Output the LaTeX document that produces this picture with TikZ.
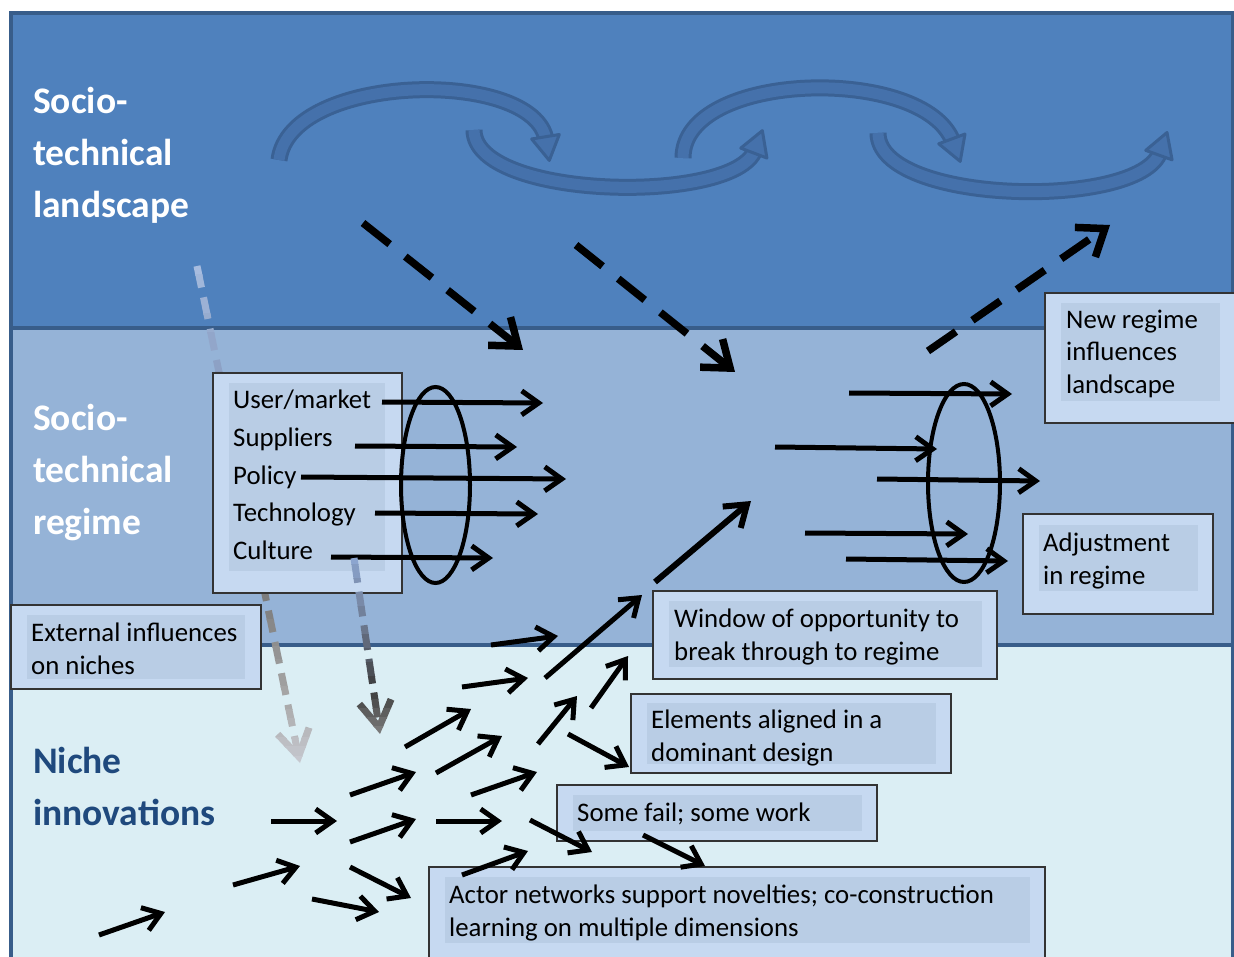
\documentclass[tikz,border=0pt]{standalone}
\usepackage{fontspec}
\setmainfont{Carlito}
\usetikzlibrary{arrows.meta,decorations.markings}
\definecolor{topband}{HTML}{4F81BD}
\definecolor{midband}{HTML}{95B3D7}
\definecolor{lowband}{HTML}{DBEEF4}
\definecolor{frameblue}{HTML}{385D8A}
\definecolor{boxout}{HTML}{C6D9F1}
\definecolor{boxin}{HTML}{B9CDE5}
\definecolor{boxline}{HTML}{333333}
\definecolor{nichetext}{HTML}{1F497D}
\definecolor{bandline}{HTML}{3A6194}
\definecolor{bandfill}{HTML}{4571AB}
\definecolor{gAa}{HTML}{A9BFE2}
\definecolor{gAb}{HTML}{8A9EC2}
\definecolor{gAc}{HTML}{7A7A7A}
\definecolor{gAd}{HTML}{A8A8A8}
\definecolor{gAe}{HTML}{CDD0D8}
\definecolor{gBa}{HTML}{8FAAD6}
\definecolor{gBb}{HTML}{6F7C94}
\definecolor{gBc}{HTML}{3C3C3C}
\definecolor{gBd}{HTML}{8E8E8E}
\newcommand\gradpiece[6]{%
  \foreach \kk in {1,...,#5}{%
    \pgfmathsetmacro\gya{#1+(#2-#1)*(\kk-1)/#5}%
    \pgfmathsetmacro\gyb{#1+(#2-#1)*\kk/#5+0.6}%
    \pgfmathtruncatemacro\gpc{100*(\kk-0.5)/#5}%
    \colorlet{gtmp}{#4!\gpc!#3}%
    \begin{scope}
      \clip (0,\gya) rectangle (1234,\gyb);
      #6
    \end{scope}
  }%
}
\tikzset{
  outerbox/.style={fill=boxout, draw=boxline, line width=1.5pt},
  innerbox/.style={fill=boxin},
  lbl/.style={anchor=base west, inner sep=0pt, font=\fontsize{26.8}{33}\selectfont},
  biglbl/.style={anchor=base west, inner sep=0pt, font=\fontsize{37.5}{52}\selectfont\bfseries, text=white},
  blk/.style={draw=black, line width=5pt, -{Straight Barb[length=17pt,width=24pt]}},
  bigblk/.style={draw=black, line width=6pt, -{Straight Barb[length=20pt,width=28pt]}},
  dashblk/.style={draw=black, line width=7.5pt, dash pattern=on 34pt off 20pt, -{Straight Barb[length=24pt,width=36pt]}},
  gdashA/.style={line width=7pt, dash pattern=on 22pt off 10pt, -{Straight Barb[length=26pt,width=32pt]}},
  gdashB/.style={line width=7pt, dash pattern=on 25pt off 9pt, -{Straight Barb[length=26pt,width=32pt]}},
  ell/.style={draw=black, line width=4pt},
  swoosh/.style={draw=bandline, line width=3pt, double=bandfill, double distance=11pt},
  swooshhead/.style={decorate, decoration={markings, mark=at position 0.999 with {\filldraw[fill=bandfill, draw=bandline, line width=3pt, line join=round] (-3,-14) -- (21,0) -- (-3,14) -- cycle;}}}
}
\begin{document}
\begin{tikzpicture}[x=1pt,y=-1pt]
\useasboundingbox (0,0) rectangle (1234,957);
\fill[white] (0,0) rectangle (1234,957);
% bands
\fill[topband] (10,12) rectangle (1234,328);
\fill[midband] (10,328) rectangle (1234,645);
\fill[lowband] (10,645) rectangle (1234,960);
\draw[frameblue, line width=4pt] (10,328) -- (1234,328);
\draw[frameblue, line width=4pt] (10,645) -- (1234,645);
\draw[frameblue, line width=4pt] (11,962) -- (11,13) -- (1233,13) -- (1233,962);
% landscape swooshes
\draw[swoosh] (279,160) .. controls (290,72) and (535,68) .. (546,140);
\path[swooshhead] (279,160) .. controls (290,72) and (535,68) .. (546,140);
\draw[swoosh] (474,130) .. controls (474,200) and (735,205) .. (755,150);
\path[swooshhead] (474,130) .. controls (474,200) and (735,205) .. (755,150);
\draw[swoosh] (683,158) .. controls (683,70) and (925,65) .. (953,142);
\path[swooshhead] (683,158) .. controls (683,70) and (925,65) .. (953,142);
\draw[swoosh] (878,133) .. controls (878,205) and (1140,210) .. (1160,152);
\path[swooshhead] (878,133) .. controls (878,205) and (1140,210) .. (1160,152);
% big labels
\node[biglbl] (land1) at (33,114) {Socio-};
\node[biglbl] (land2) at (33,166) {technical};
\node[biglbl] (land3) at (33,218) {landscape};
\node[biglbl] (reg1) at (33,430) {Socio-};
\node[biglbl] (reg2) at (33,482) {technical};
\node[biglbl] (reg3) at (33,534) {regime};
\node[biglbl, text=nichetext] (nic1) at (33,773) {Niche};
\node[biglbl, text=nichetext] (nic2) at (33,825) {innovations};
% landscape dashed arrows
\coordinate (d1s) at (363,223); \coordinate (d1e) at (523,350);
\coordinate (d2s) at (576,245); \coordinate (d2e) at (735,372);
\coordinate (d3s) at (928,351); \coordinate (d3e) at (1110,225);
\draw[dashblk] (d1s) -- (d1e);
\draw[dashblk] (d2s) -- (d2e);
\draw[dashblk] (d3s) -- (d3e);
% grey external-influence arrow A (behind list box)
\coordinate (gAs) at (197,266); \coordinate (gAend) at (300,763);
\gradpiece{255}{372}{gAa}{gAb}{6}{\draw[gdashA, draw=gtmp] (gAs) -- (gAend);}
\gradpiece{372}{593}{gAb}{gAc}{6}{\draw[gdashA, draw=gtmp] (gAs) -- (gAend);}
\gradpiece{593}{700}{gAc}{gAd}{8}{\draw[gdashA, draw=gtmp] (gAs) -- (gAend);}
\gradpiece{700}{775}{gAd}{gAe}{8}{\draw[gdashA, draw=gtmp] (gAs) -- (gAend);}
% boxes
\draw[outerbox] (213,373) rectangle (402,593);
\fill[innerbox] (229,383) rectangle (385,571);
\draw[outerbox] (11,605) rectangle (261,689);
\fill[innerbox] (27,615) rectangle (245,679);
\draw[outerbox] (1045,293) rectangle (1240,423);
\fill[innerbox] (1061,303) rectangle (1220,401);
\draw[outerbox] (1023,514) rectangle (1213,614);
\fill[innerbox] (1039,525) rectangle (1198,591);
\draw[outerbox] (653,591) rectangle (997,679);
\fill[innerbox] (669,601) rectangle (982,667);
\draw[outerbox] (631,694) rectangle (951,773);
\fill[innerbox] (647,703) rectangle (936,764);
\draw[outerbox] (557,785) rectangle (877,841);
\fill[innerbox] (573,795) rectangle (862,831);
\draw[outerbox] (429,867) rectangle (1045,970);
\fill[innerbox] (445,877) rectangle (1030,943);
% box texts
\node[lbl] (t1) at (233,409) {User/market};
\node[lbl] (t2) at (233,446) {Suppliers};
\node[lbl] (t3) at (233,484) {Policy};
\node[lbl] (t4) at (233,521) {Technology};
\node[lbl] (t5) at (233,559) {Culture};
\node[lbl] (ext1) at (31,641) {External influences};
\node[lbl] (ext2) at (31,674) {on niches};
\node[lbl] (new1) at (1066,329) {New regime};
\node[lbl] (new2) at (1066,361) {influences};
\node[lbl] (new3) at (1066,394) {landscape};
\node[lbl] (adj1) at (1043,551) {Adjustment};
\node[lbl] (adj2) at (1043,584) {in regime};
\node[lbl] (win1) at (674,627) {Window of opportunity to};
\node[lbl] (win2) at (674,660) {break through to regime};
\node[lbl] (ele1) at (651,728) {Elements aligned in a};
\node[lbl] (ele2) at (651,761) {dominant design};
\node[lbl] (som1) at (577,821) {Some fail; some work};
\node[lbl] (act1) at (449,903) {Actor networks support novelties; co-construction};
\node[lbl] (act2) at (449,936) {learning on multiple dimensions};
% ellipses
\draw[ell] (435.5,485) ellipse [x radius=34.5, y radius=98];
\draw[ell] (964,483) ellipse [x radius=36, y radius=99];
% regime arrows
\foreach \n/\xa/\ya/\xb/\yb in {L1/382/402/543/403, L2/355/446/517/447, L3/301/477/566/479, L4/375/513/538/514, L5/331/557/493/558, R1/849/393/1012/394, R2/775/447/937/449, R3/877/479/1040/481, R4/805/533/968/534, R5/846/559/1008/561}{
  \coordinate (\n s) at (\xa,\ya); \coordinate (\n e) at (\xb,\yb);
  \draw[blk] (\n s) -- (\n e);
}
% niche arrows
\foreach \n/\xa/\ya/\xb/\yb in {1/99/935/165/912, 2/233/885/300/866, 3/271/821/337/821, 4/312/899/379/912, 5/350/867/411/898, 6/350/795/416/772, 7/350/842/416/819, 8/405/747/471/709, 9/436/773/502/736, 10/436/821/502/821, 11/462/875/528/851, 12/462/687/528/678, 13/471/795/537/772, 14/491/645/558/636, 15/530/820/592/852, 16/538/744/577/696, 17/545/678/642/595, 18/591/708/628/656, 19/568/734/629/767, 20/643/835/705/866}{
  \coordinate (N\n s) at (\xa,\ya); \coordinate (N\n e) at (\xb,\yb);
  \draw[blk] (N\n s) -- (N\n e);
}
\coordinate (bigs) at (655,582); \coordinate (bige) at (751,501);
\draw[bigblk] (bigs) -- (bige);
% grey arrow B (on top of list box)
\coordinate (gBs) at (354,558); \coordinate (gBend) at (380,734);
\gradpiece{550}{620}{gBa}{gBb}{5}{\draw[gdashB, draw=gtmp] (gBs) -- (gBend);}
\gradpiece{620}{690}{gBb}{gBc}{5}{\draw[gdashB, draw=gtmp] (gBs) -- (gBend);}
\gradpiece{690}{745}{gBc}{gBd}{6}{\draw[gdashB, draw=gtmp] (gBs) -- (gBend);}
\end{tikzpicture}
\end{document}
